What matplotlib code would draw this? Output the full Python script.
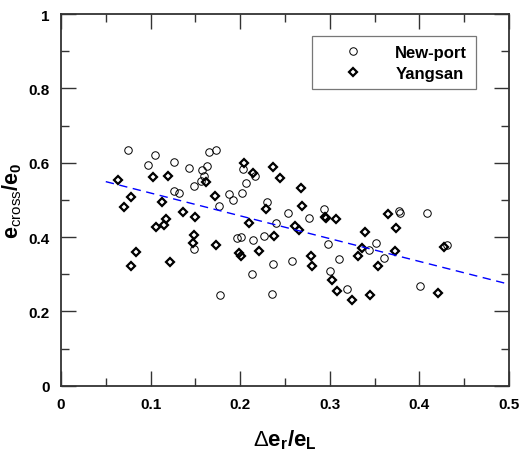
import matplotlib
matplotlib.use("Agg")
import matplotlib.pyplot as plt
from matplotlib.ticker import MultipleLocator, FuncFormatter

plt.rcParams['font.family'] = ['Liberation Sans', 'DejaVu Sans']
plt.rcParams['mathtext.fontset'] = 'custom'
plt.rcParams['mathtext.rm'] = 'Liberation Sans'
plt.rcParams['mathtext.bf'] = 'Liberation Sans:bold'
plt.rcParams['mathtext.it'] = 'Liberation Sans:italic'

# New-port (open circles)
newport_x = [0.075, 0.105, 0.0975, 0.126, 0.1425, 0.165, 0.1727, 0.1626, 0.157, 0.160,
             0.1566, 0.148, 0.1265, 0.132, 0.176, 0.148, 0.1775, 0.2035, 0.2169, 0.207,
             0.202, 0.187, 0.1916, 0.230, 0.2537, 0.240, 0.277, 0.293, 0.2976, 0.196,
             0.201, 0.214, 0.2262, 0.237, 0.2575, 0.2128, 0.236, 0.310, 0.300, 0.3188,
             0.377, 0.378, 0.408, 0.352, 0.3434, 0.360, 0.4305, 0.401]
newport_y = [0.634, 0.622, 0.595, 0.601, 0.587, 0.628, 0.635, 0.592, 0.581, 0.565,
             0.552, 0.538, 0.525, 0.519, 0.483, 0.367, 0.244, 0.583, 0.563, 0.545,
             0.518, 0.517, 0.500, 0.495, 0.464, 0.438, 0.451, 0.475, 0.380, 0.398,
             0.401, 0.393, 0.403, 0.328, 0.335, 0.301, 0.248, 0.340, 0.309, 0.260,
             0.469, 0.464, 0.465, 0.383, 0.365, 0.343, 0.378, 0.267]

# Yangsan (diamonds)
yangsan_x = [0.064, 0.103, 0.119, 0.162, 0.0785, 0.070, 0.1127, 0.172, 0.136, 0.150,
             0.117, 0.106, 0.1146, 0.149, 0.1477, 0.1733, 0.0837, 0.078, 0.122, 0.2042,
             0.2146, 0.237, 0.2444, 0.268, 0.2284, 0.2693, 0.210, 0.261, 0.266, 0.2946,
             0.2955, 0.307, 0.2377, 0.199, 0.2006, 0.2213, 0.279, 0.2805, 0.3025, 0.3077,
             0.3248, 0.3318, 0.3646, 0.374, 0.3396, 0.336, 0.373, 0.3535, 0.4278, 0.345,
             0.4208]
yangsan_y = [0.553, 0.561, 0.565, 0.547, 0.509, 0.480, 0.494, 0.510, 0.467, 0.454,
             0.448, 0.428, 0.433, 0.405, 0.385, 0.378, 0.359, 0.321, 0.332, 0.600,
             0.572, 0.589, 0.559, 0.531, 0.475, 0.484, 0.438, 0.430, 0.419, 0.453,
             0.450, 0.448, 0.403, 0.356, 0.350, 0.363, 0.350, 0.323, 0.285, 0.254,
             0.230, 0.348, 0.462, 0.423, 0.414, 0.370, 0.362, 0.323, 0.374, 0.243,
             0.250]

# linear trend line
trend_x = [0.05, 0.5]
trend_y = [0.549, 0.273]


def tick_fmt(v, pos):
    return f'{round(v, 2):g}'


fig = plt.figure(figsize=(5.19, 4.52), dpi=100)
ax = fig.add_axes([0.1175, 0.1445, 0.8632, 0.8223])

ax.plot(newport_x, newport_y, linestyle='none', marker='o', ms=5.4,
        mfc='none', mec='black', mew=0.7, label='New-port')
ax.plot(yangsan_x, yangsan_y, linestyle='none', marker='D', ms=3.6,
        mfc='none', mec='black', mew=1.6, label='Yangsan')
ax.plot(trend_x, trend_y, color='blue', lw=1.0, dashes=(6, 4))

ax.set_xlim(0, 0.5)
ax.set_ylim(0, 1)
ax.xaxis.set_major_locator(MultipleLocator(0.1))
ax.xaxis.set_minor_locator(MultipleLocator(0.05))
ax.yaxis.set_major_locator(MultipleLocator(0.2))
ax.yaxis.set_minor_locator(MultipleLocator(0.1))
ax.xaxis.set_major_formatter(FuncFormatter(tick_fmt))
ax.yaxis.set_major_formatter(FuncFormatter(tick_fmt))

ax.tick_params(which='both', direction='in', top=True, right=True,
               color='#333333', width=1.0)
ax.tick_params(which='major', length=11, labelsize=11, pad=8)
ax.tick_params(which='minor', length=6)
for lab in ax.get_xticklabels() + ax.get_yticklabels():
    lab.set_fontweight('bold')

for sp in ax.spines.values():
    sp.set_color('#333333')
    sp.set_linewidth(1.3)

ax.set_xlabel(r'$\Delta\mathbf{e}_\mathbf{r}\mathbf{/e}_\mathbf{L}$', fontsize=16, labelpad=12)
ax.set_ylabel(r'$\mathbf{e}_{\mathrm{cross}}\mathbf{/e}_\mathbf{0}$', fontsize=15.5, labelpad=3)

leg = ax.legend(loc='upper right', bbox_to_anchor=(0.944, 0.962), fancybox=False,
                framealpha=1, edgecolor='#777777', borderpad=0.5, handlelength=3.9,
                handletextpad=0.6, labelspacing=0.35,
                prop={'weight': 'bold', 'size': 12})
leg.get_frame().set_linewidth(0.9)

fig.savefig('out.png', dpi=100)
